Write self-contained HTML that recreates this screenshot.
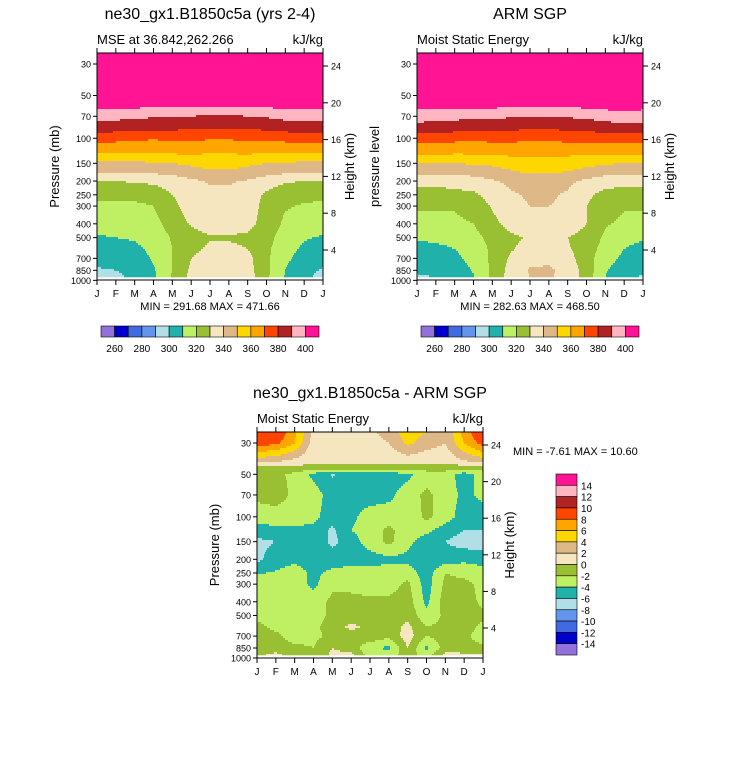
<!DOCTYPE html>
<html><head><meta charset="utf-8"><style>
html,body{margin:0;padding:0;background:#fff;}
svg{display:block;font-family:"Liberation Sans",sans-serif;}
</style></head><body>
<svg id="root" width="733" height="768" viewBox="0 0 733 768" xmlns="http://www.w3.org/2000/svg"></svg>
<script>
// ---------- data ----------
const monthLabels = ['J','F','M','A','M','J','J','A','S','O','N','D','J'];
const presTicks = [30,50,70,100,150,200,250,300,400,500,700,850,1000];
const heightTicks = [4,8,12,16,20,24];
const mseLevels = [260,270,280,290,300,310,320,330,340,350,360,370,380,390,400];
const mseLabels = [260,280,300,320,340,360,380,400];
const diffLevels = [-14,-12,-10,-8,-6,-4,-2,0,2,4,6,8,10,12,14];
const palette = ['#9370DB','#0000CD','#4169E1','#6495ED','#B0E0E6','#20B2AA','#BFEF62','#99BF33','#F5E6C0','#DEB887','#FFD700','#FFA500','#FF4500','#B22222','#FFB6C1','#FF1493'];

const modelP = [25,30,50,62,70,85,100,125,150,175,200,250,300,400,500,600,700,850,950];
const modelVals = [
[470,470,470,470,470,470,470,470,470,470,470,470,470],
[455,455,455,455,455,455,455,455,455,455,455,455,455],
[420,420,420,420,420,420,420,420,420,420,420,420,420],
[400,400,399,398,398,397,396,396,397,398,400,401,400],
[393,393,392,391,391,390,389,389,390,391,393,394,393],
[385,384,383,382,382,381,380,380,381,382,384,385,385],
[373,373,372,371,372,372,371,371,372,372,373,373,373],
[362,362,361,361,362,362,361,361,362,361,362,362,362],
[348,348,348,349,350,352,354,354,352,350,349,348,348],
[340,340,340,341,342,345,348,348,346,343,341,340,340],
[330,330,331,332,335,338,341,341,339,335,331,330,330],
[322,322,323,324,330,336,338,338,336,328,324,323,322],
[318,318,318,320,327,335,337,337,336,326,321,319,318],
[314,314,315,317,324,331,335,335,333,326,318,315,314],
[309,310,311,314,321,326,329,329,328,323,316,311,309],
[305,306,308,312,320,327,332,332,330,322,314,308,305],
[303,304,306,311,320,330,335,335,333,322,312,306,303],
[299,300,303,309,320,332,337,337,334,322,310,303,299],
[297,298,302,308,321,333,338,338,336,322,309,302,297]];

const obsP = [25,30,50,62,70,85,100,125,150,175,200,250,300,400,500,600,700,850,950];
const obsVals = [
[468,468,468,468,468,468,468,468,468,468,468,468,468],
[452,452,452,452,452,452,452,452,452,452,452,452,452],
[420,420,420,420,420,420,420,420,420,420,420,420,420],
[401,401,400,399,399,398,397,397,398,399,401,402,401],
[394,394,393,392,392,391,390,390,391,392,394,395,394],
[386,385,384,383,383,382,381,381,382,383,385,386,386],
[374,374,373,372,373,373,372,372,373,373,374,374,374],
[363,363,362,362,363,363,362,362,363,362,363,363,363],
[350,350,350,351,352,355,357,357,355,353,351,350,350],
[342,342,342,343,345,348,351,351,349,346,343,342,342],
[333,333,334,336,339,342,344,344,342,338,334,333,333],
[326,326,327,328,334,339,341,341,339,332,327,326,326],
[321,321,321,324,331,338,340,340,339,330,324,321,321],
[317,317,318,320,327,334,338,338,335,330,321,318,317],
[311,312,313,317,323,328,331,331,330,327,318,313,311],
[307,308,310,314,322,329,334,334,331,325,316,310,307],
[305,306,308,313,322,332,337,337,334,324,314,308,305],
[301,302,304,311,322,334,341,342,336,326,311,304,301],
[299,300,303,309,322,335,340,341,337,325,310,302,299]];

const diffP = [25,30,40,45,50,70,100,125,150,200,250,300,400,500,600,700,850,950];
const diffVals = [
[10,10,6.5,1.5,1,1.5,1.5,3,5,4,2,7,10],
[9,8.5,6,1,0.8,1,1,2,4.5,3,2,6,9],
[3,2.5,1.5,0.5,0.5,0.5,0.5,0.5,1,0.5,0.5,2,3],
[-1,-1,-0.5,-1,-1,-1,-1,-1,-1,-1,-1,-1,-1],
[-1,-1.5,-2.5,-4.5,-6.2,-5,-5,-5,-4.5,-3,-3,-5,-3],
[-1.5,-1,-2.5,-3,-5,-5,-5,-4.5,-3,-1.5,-3,-4.5,-3.5],
[-3,-3,-3,-3.5,-5,-4.5,-3,-3,-3.5,-1.5,-3,-5,-5],
[-5,-4.5,-4.5,-4.5,-6.5,-4,-3,-1.5,-3,-3.5,-5,-6,-6],
[-6.5,-6,-5,-4.5,-6.5,-5,-3,-1.5,-3.5,-5,-6,-7,-7],
[-6.5,-5,-4.5,-5,-5,-5,-5,-4.5,-4.5,-5.5,-5,-4.5,-5],
[-4.2,-3.8,-3,-4.5,-3.5,-3,-3,-3,-3,-5,-2,-2.5,-3],
[-3,-3,-3,-4.5,-2.5,-2.5,-3,-3,-1.5,-5,-1.5,-1.5,-2.5],
[-3,-3,-3,-3,-1.5,-1.5,-1.5,-1.5,-1,-4.5,-1,-1,-2.5],
[-2.5,-3,-3,-3,-1.5,-1.2,-1.5,-1.5,-0.5,-3.5,-1.5,-1,-1.5],
[-1.5,-2.5,-3,-2.5,-1,0.5,-0.5,-1,0.5,-2,-1.5,-1,-2.5],
[-1.5,-1.5,-3,-2.5,-1.5,-1,-0.5,-1.5,1,-2,-1,-1.5,-3],
[-1.5,-1,-1.5,-2,0,-1,-3.5,-4.5,0,-4.5,-1,-1.5,-1.5],
[-0.5,0.5,-1,-2,0.5,0.5,-3,-3,-1,-3,0.5,0.5,0]];

// ---------- helpers ----------
const NS='http://www.w3.org/2000/svg';
const root=document.getElementById('root');
function mk(tag,attrs,parent){const e=document.createElementNS(NS,tag);for(const k in attrs)e.setAttribute(k,attrs[k]);(parent||root).appendChild(e);return e;}
function txt(s,x,y,size,anchor,parent,rot){const t=mk('text',{x:x,y:y,'font-size':size,'text-anchor':anchor||'start',fill:'#000'},parent);if(rot)t.setAttribute('transform','rotate(-90 '+x+' '+y+')');t.textContent=s;return t;}
function colorIndex(v,levels){let i=0;while(i<levels.length&&v>=levels[i])i++;return i;}
function sample(P,V,m,p){
  const lp=Math.log(p);let i=0;
  while(i<P.length-2&&Math.log(P[i+1])<lp)i++;
  let t=(lp-Math.log(P[i]))/(Math.log(P[i+1])-Math.log(P[i]));t=Math.max(0,Math.min(1,t));
  let j=Math.min(11,Math.floor(m));let u=Math.max(0,Math.min(1,m-j));
  const a=V[i][j]*(1-u)+V[i][j+1]*u, b=V[i+1][j]*(1-u)+V[i+1][j+1]*u;
  return a*(1-t)+b*t;
}

function panel(c){
  const g=mk('g',{});
  
  
  const yP=p=>c.y30+c.sc*Math.log(p/30);
  const pY=y=>30*Math.exp((y-c.y30)/c.sc);
  const fill=mk('g',{},g);
  
  
  for(let y=c.top;y<c.dataBot;y+=2){
    const p=pY(y+1);let runStart=c.x0,runCol=null;
    for(let x=c.x0;x<=c.x1;x++){
      let col=null;
      if(x<c.x1){const m=(x+0.5-c.x0)/(c.x1-c.x0)*12;col=palette[colorIndex(sample(c.P,c.V,m,p),c.levels)];}
      if(col!==runCol){
        if(runCol!==null){const r=mk('rect',{x:runStart,y:y,width:x-runStart,height:Math.min(2,c.dataBot-y)+0.3,fill:runCol},fill);
          
          }
        runStart=x;runCol=col;
      }
    }
  }
  const fr=mk('rect',{x:c.x0,y:c.top,width:c.x1-c.x0,height:c.bot-c.top,fill:'none',stroke:'#000','stroke-width':1},g);
  
  
  monthLabels.forEach((l,i)=>{
    const x=c.x0+i*(c.x1-c.x0)/12;
    mk('line',{x1:x,x2:x,y1:c.top,y2:c.top-5,stroke:'#000'},g);
    mk('line',{x1:x,x2:x,y1:c.bot,y2:c.bot+5,stroke:'#000'},g);
    const t=txt(l,x,c.bot+17,10,'middle',g);
    
    
  });
  presTicks.forEach(p=>{
    const y=yP(p);
    mk('line',{x1:c.x0,x2:c.x0-4,y1:y,y2:y,stroke:'#000'},g);
    const t=txt(String(p),c.x0-6,y+3.5,9,'end',g);
    
    
  });
  heightTicks.forEach(h=>{
    const y=c.h24+(24-h)*c.hsc;
    mk('line',{x1:c.x1,x2:c.x1+5,y1:y,y2:y,stroke:'#000'},g);
    const t=txt(String(h),c.x1+8,y+3.5,9,'start',g);
    
    
  });
  let t=txt(c.title,(c.x0+c.x1)/2,c.top-34,16,'middle',g);
  
  
  t=txt(c.sub,c.x0,c.top-9,13,'start',g);
  
  
  t=txt('kJ/kg',c.x1,c.top-9,13,'end',g);
  
  
  t=txt(c.ylab,c.x0-38,(c.top+c.bot)/2,13,'middle',g,true);
  
  
  t=txt('Height (km)',c.x1+31,(c.top+c.bot)/2,13,'middle',g,true);
  
  
  t=txt(c.minmax,c.mmx,c.mmy,11,c.mma,g);
  
  
}

function hbar(x0,x1,y,h){
  const g=mk('g',{});
  
  
  const w=(x1-x0)/palette.length;
  palette.forEach((c,i)=>{const r=mk('rect',{x:x0+i*w,y:y,width:w,height:h,fill:c,stroke:'#000','stroke-width':0.6},g);
    
    });
  mseLabels.forEach(v=>{const i=mseLevels.indexOf(v);const t=txt(String(v),x0+(i+1)*w,y+h+15,10,'middle',g);
    
    });
}

panel({name:'model-panel',x0:97,x1:323,top:53,bot:280,dataBot:277,y30:64,sc:61.7,h24:66,hsc:9.2,P:modelP,V:modelVals,levels:mseLevels,
  title:'ne30_gx1.B1850c5a (yrs 2-4)',sub:'MSE at 36.842,262.266',ylab:'Pressure (mb)',minmax:'MIN = 291.68 MAX = 471.66',mmx:210,mmy:310,mma:'middle'});
panel({name:'obs-panel',x0:417,x1:643,top:53,bot:280,dataBot:277,y30:64,sc:61.7,h24:66,hsc:9.2,P:obsP,V:obsVals,levels:mseLevels,
  title:'ARM SGP',sub:'Moist Static Energy',ylab:'pressure level',minmax:'MIN = 282.63 MAX = 468.50',mmx:530,mmy:310,mma:'middle'});
panel({name:'diff-panel',x0:257,x1:483,top:432,bot:658,dataBot:655,y30:443,sc:61.3,h24:445,hsc:9.15,P:diffP,V:diffVals,levels:diffLevels,
  title:'ne30_gx1.B1850c5a - ARM SGP',sub:'Moist Static Energy',ylab:'Pressure (mb)',minmax:'MIN =  -7.61 MAX =  10.60',mmx:513,mmy:455,mma:'start'});
hbar(101,319,326,11);
hbar(421,639,326,11);
(function(){
  const g=mk('g',{});
  
  
  const y0=474,y1=655,x=556,w=21,h=(y1-y0)/palette.length;
  palette.slice().reverse().forEach((c,i)=>{const r=mk('rect',{x:x,y:y0+i*h,width:w,height:h,fill:c,stroke:'#000','stroke-width':0.6},g);
    
    });
  diffLevels.slice().reverse().forEach((v,i)=>{const t=txt(String(v),x+w+4,y0+(i+1)*h+4,10,'start',g);
    
    });
})();
</script>
</body></html>
